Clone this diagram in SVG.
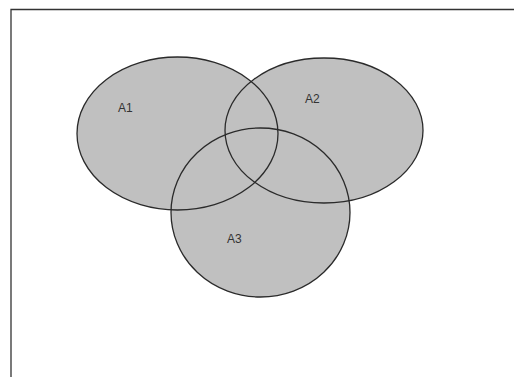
<svg xmlns="http://www.w3.org/2000/svg" width="514" height="377" viewBox="0 0 514 377">
<style>
.fill{fill:#c0c0c0;stroke:none}
.out{fill:none;stroke:#2a2a2a;stroke-width:1.3}
.lbl{font-family:"Liberation Sans",Arial,sans-serif;font-size:12px;fill:#333}
.frame{stroke:#333;stroke-width:1.3;fill:none}
</style>
<rect width="514" height="377" fill="#fff"/>
<path class="frame" d="M11 377 V9.5 H514"/>
<g id="fills">
<ellipse class="fill" cx="177.5" cy="133.5" rx="100.5" ry="76.5"/>
<ellipse class="fill" cx="324" cy="130.5" rx="99" ry="72.5"/>
<ellipse class="fill" cx="260.5" cy="212.5" rx="89.5" ry="84.5"/>
</g>
<g id="A1">
<ellipse class="out" cx="177.5" cy="133.5" rx="100.5" ry="76.5"/>
<text class="lbl" x="118" y="112">A1</text>
</g>
<g id="A2">
<ellipse class="out" cx="324" cy="130.5" rx="99" ry="72.5"/>
<text class="lbl" x="305" y="103">A2</text>
</g>
<g id="A3">
<ellipse class="out" cx="260.5" cy="212.5" rx="89.5" ry="84.5"/>
<text class="lbl" x="227" y="243">A3</text>
</g>
<g id="connectors"/>
</svg>
